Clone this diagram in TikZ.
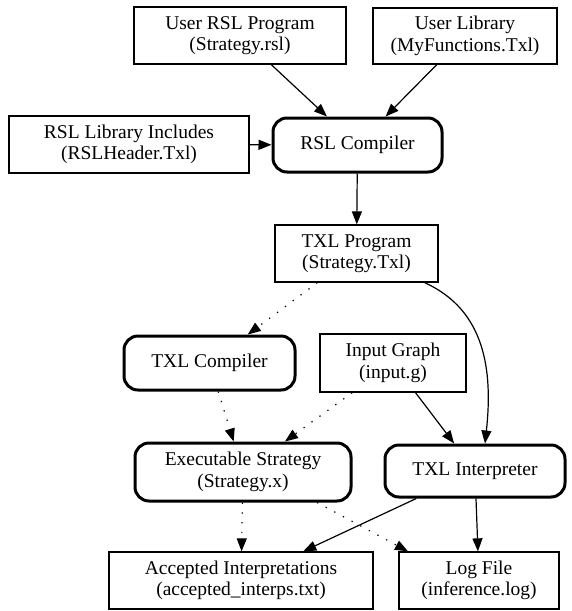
\documentclass[tikz,border=0pt]{standalone}
\usepackage{fontspec}
\setmainfont{Liberation Serif}
\usetikzlibrary{arrows.meta,calc}
\begin{document}
\begin{tikzpicture}[x=1pt,y=-1pt,
  box/.style={draw, line width=1.3pt, rectangle, minimum height=57pt, inner sep=0pt, align=center, font=\fontsize{19.5}{21.5}\selectfont},
  rbox/.style={box, rounded corners=14pt, line width=3pt},
  edge/.style={-{Triangle[length=13pt,width=10pt]}, line width=1.2pt},
  dots/.style={edge, dash pattern=on 1.3pt off 8.5pt}
]
\useasboundingbox (0,0) rectangle (571,611);
\node[box, minimum width=212pt] (usr) at (240,35.5) {User RSL Program\\(Strategy.rsl)};
\node[box, minimum width=184pt, minimum height=56pt] (ulib) at (465,36) {User Library\\(MyFunctions.Txl)};
\node[box, minimum width=240pt] (rslinc) at (129,144.5) {RSL Library Includes\\(RSLHeader.Txl)};
\node[rbox, minimum width=169pt, minimum height=54pt] (rslc) at (357.5,145) {RSL Compiler};
\node[box, minimum width=163pt] (txlp) at (356.5,253.5) {TXL Program\\(Strategy.Txl)};
\node[rbox, minimum width=171pt, minimum height=54pt] (txlc) at (209.5,363) {TXL Compiler};
\node[box, minimum width=146pt, minimum height=58pt] (ing) at (393,363) {Input Graph\\(input.g)};
\node[rbox, minimum width=216pt, minimum height=58pt] (exe) at (243,472) {Executable Strategy\\(Strategy.x)};
\node[rbox, minimum width=180pt, minimum height=52pt] (txli) at (475,471) {TXL Interpreter};
\node[box, minimum width=264pt] (acc) at (241,580.5) {Accepted Interpretations\\(accepted\_interps.txt)};
\node[box, minimum width=160pt] (log) at (479,580.5) {Log File\\(inference.log)};

\draw[edge] (usr) -- (rslc);
\draw[edge] (ulib) -- (rslc);
\draw[edge] (rslinc) -- (rslc);
\draw[edge] (rslc) -- (txlp);
\draw[dots] (txlp) -- (txlc);
\draw[edge] ($(txlp.south east)+(-14,0)$) .. controls (485,310) and (493,370) .. ($(txli.north)+(10,0)$);
\draw[edge] (ing) -- (txli);
\draw[dots] (ing) -- (exe);
\draw[dots] (txlc) -- (exe);
\draw[dots] (exe) -- (acc);
\draw[dots] ($(exe.south)+(74,0)$) -- ($(log.north)+(-71,0)$);
\draw[edge] (txli) -- (acc);
\draw[edge] (txli) -- (log);
\end{tikzpicture}
\end{document}
